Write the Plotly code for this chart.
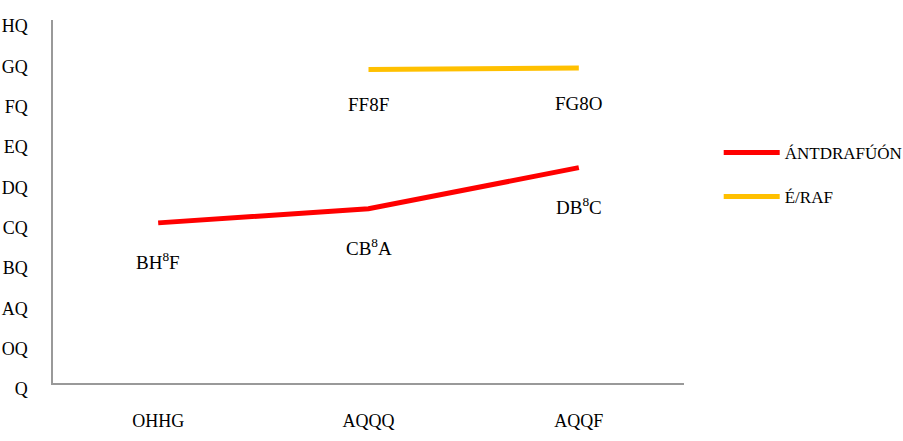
import plotly.graph_objects as go

categories = ["OHHG", "AQQQ", "AQQF"]
red_name = "ÁNTDRAFÚÓN"
red_values = [39.7, 43.2, 53.4]
red_labels = ["BH<sup>8</sup>F", "CB<sup>8</sup>A", "DB<sup>8</sup>C"]
yellow_name = "É/RAF"
yellow_cats = ["AQQQ", "AQQF"]
yellow_values = [77.7, 78.1]
yellow_labels = ["FF8F", "FG8O"]
y_tickvals = [0, 10, 20, 30, 40, 50, 60, 70, 80, 90]
y_ticktext = ["Q", "OQ", "AQ", "BQ", "CQ", "DQ", "EQ", "FQ", "GQ", "HQ"]

FONT = "Liberation Serif"

fig = go.Figure()
fig.add_trace(go.Scatter(x=categories, y=red_values, mode="lines", name=red_name,
                         line=dict(color="#FF0000", width=5), legend="legend"))
fig.add_trace(go.Scatter(x=yellow_cats, y=yellow_values, mode="lines", name=yellow_name,
                         line=dict(color="#FFC000", width=5), legend="legend2"))

for x, y, t in zip(categories, red_values, red_labels):
    fig.add_annotation(x=x, y=y, text=t, showarrow=False, yshift=-38,
                       font=dict(family=FONT, size=19, color="black"))
for x, y, t in zip(yellow_cats, yellow_values, yellow_labels):
    fig.add_annotation(x=x, y=y, text=t, showarrow=False, yshift=-35,
                       font=dict(family=FONT, size=19, color="black"))

fig.update_layout(
    width=903, height=441,
    margin=dict(l=53, r=219, t=20, b=58, autoexpand=False),
    paper_bgcolor="white", plot_bgcolor="white",
    font=dict(family=FONT, size=18, color="black"),
    showlegend=True,
    legend=dict(x=1.055, y=(383 - 153) / 363, xanchor="left", yanchor="middle",
                font=dict(family=FONT, size=17), itemwidth=56, bgcolor="rgba(0,0,0,0)"),
    legend2=dict(x=1.055, y=(383 - 197) / 363, xanchor="left", yanchor="middle",
                 font=dict(family=FONT, size=17), itemwidth=56, bgcolor="rgba(0,0,0,0)"),
    xaxis=dict(type="category", range=[-0.5, 2.5], showgrid=False, showline=True,
               linecolor="#999999", linewidth=1.5,
               ticks="", ticklabelstandoff=21, tickfont=dict(family=FONT, size=18)),
    yaxis=dict(range=[0, 90], showgrid=False, zeroline=False, showline=True, linecolor="#999999",
               linewidth=1.5, ticks="", tickvals=y_tickvals, ticktext=y_ticktext,
               ticklabelstandoff=20, ticklabelshift=6, tickfont=dict(family=FONT, size=18)),
)

fig.write_html("out.html")
